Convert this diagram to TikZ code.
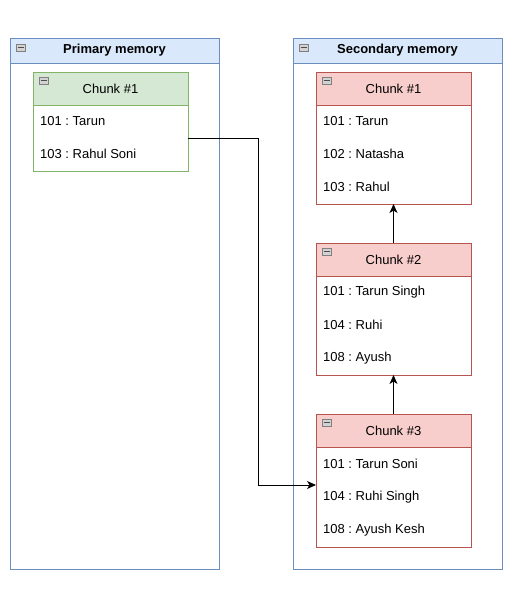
\documentclass[tikz,border=0pt]{standalone}
\usepackage{fontspec}
\setmainfont{Liberation Sans}
\usetikzlibrary{arrows.meta,positioning}
\frenchspacing

\definecolor{memfill}{HTML}{DAE8FC}
\definecolor{memline}{HTML}{6C8EBF}
\definecolor{grnfill}{HTML}{D5E8D4}
\definecolor{grnline}{HTML}{82B366}
\definecolor{redfill}{HTML}{F8CECC}
\definecolor{redline}{HTML}{B85450}

\tikzset{
  box/.style={draw, anchor=north west, inner sep=0pt, outer sep=0pt, line width=1pt},
  memhead/.style={box, draw=memline, fill=memfill, minimum width=209pt, minimum height=25pt},
  membody/.style={box, draw=memline, minimum width=209pt, minimum height=506pt},
  chunkhead/.style={box, minimum width=155pt, minimum height=33pt},
  chunkbody/.style={box, fill=white, minimum width=155pt},
  row/.style={anchor=west, inner sep=0pt},
  conn/.style={line width=1pt, -{Stealth[length=9pt,width=8pt,inset=2.5pt]}},
  minusicon/.pic={
    \draw[gray, fill=gray!35, line width=0.6pt] (0,0) rectangle (9,7);
    \draw[black!70, line width=1.2pt] (1.5,3.5) -- (7.5,3.5);
  }
}

\begin{document}
\begin{tikzpicture}[x=1pt,y=-1pt,font=\fontsize{13}{15}\selectfont]
  \useasboundingbox (0,0) rectangle (516,589);
  % containers
  \node[membody] (pmem) at (10,63) {};
  \node[memhead] (phead) at (10,38) {};
  \node[font=\fontsize{13}{15}\selectfont\bfseries] (ptitle) at (phead.center) {Primary memory};
  \node[membody] (smem) at (293,63) {};
  \node[memhead] (shead) at (293,38) {};
  \node[font=\fontsize{13}{15}\selectfont\bfseries] (stitle) at (shead.center) {Secondary memory};
  \pic at (16,44) {minusicon};
  \pic at (299,44) {minusicon};

  % primary chunk
  \node[chunkhead, draw=grnline, fill=grnfill] (p1h) at (33,72) {};
  \node (p1t) at (p1h.center) {Chunk \#1};
  \node[chunkbody, draw=grnline, minimum height=66pt] (p1b) at (33,105) {};
  \node[row] (p1r1) at (40,121) {101 : Tarun};
  \node[row] (p1r2) at (40,154) {103 : Rahul Soni};
  \pic at (39,77) {minusicon};

  % secondary chunks
  \node[chunkhead, draw=redline, fill=redfill] (c1h) at (316,72) {};
  \node (c1t) at (c1h.center) {Chunk \#1};
  \node[chunkbody, draw=redline, minimum height=99pt] (c1b) at (316,105) {};
  \node[row] (c1r1) at (323,121) {101 : Tarun};
  \node[row] (c1r2) at (323,154) {102 : Natasha};
  \node[row] (c1r3) at (323,187) {103 : Rahul};
  \pic at (322,77) {minusicon};

  \node[chunkhead, draw=redline, fill=redfill] (c2h) at (316,243) {};
  \node (c2t) at (c2h.center) {Chunk \#2};
  \node[chunkbody, draw=redline, minimum height=99pt] (c2b) at (316,276) {};
  \node[row] (c2r1) at (323,292) {101 : Tarun Singh};
  \node[row] (c2r2) at (323,325) {104 : Ruhi};
  \node[row] (c2r3) at (323,358) {108 : Ayush};
  \pic at (322,248) {minusicon};

  \node[chunkhead, draw=redline, fill=redfill] (c3h) at (316,414) {};
  \node (c3t) at (c3h.center) {Chunk \#3};
  \node[chunkbody, draw=redline, minimum height=100pt] (c3b) at (316,447) {};
  \node[row] (c3r1) at (323,464) {101 : Tarun Soni};
  \node[row] (c3r2) at (323,497) {104 : Ruhi Singh};
  \node[row] (c3r3) at (323,530) {108 : Ayush Kesh};
  \pic at (322,419) {minusicon};

  % links
  \coordinate (c3in) at (316,485);
  \draw[conn] (p1b.east) -- ++(70,0) |- (c3in);
  \draw[conn] (c2h.north) -- (c1b.south);
  \draw[conn] (c3h.north) -- (c2b.south);
\end{tikzpicture}
\end{document}
